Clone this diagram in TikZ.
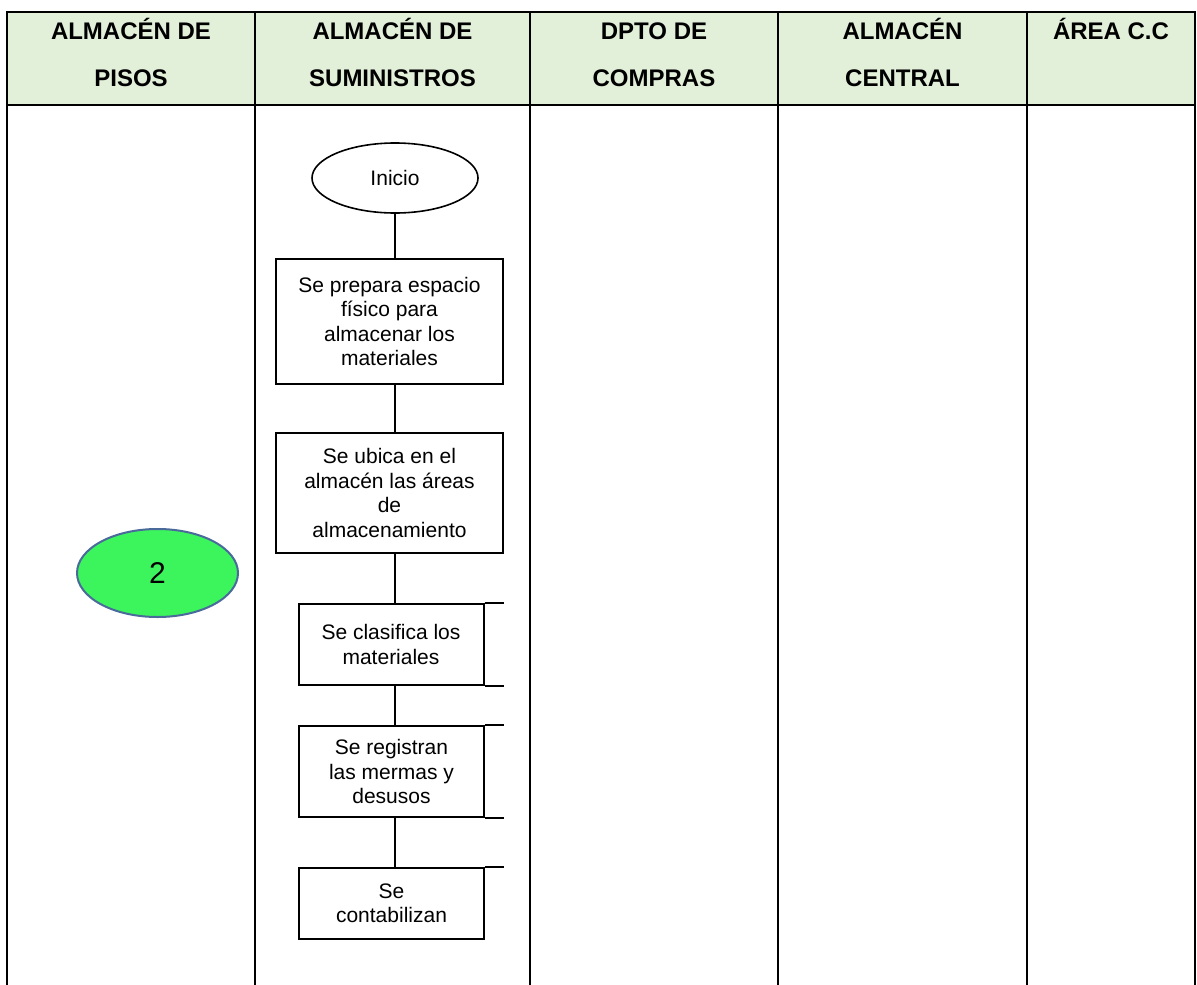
\documentclass[tikz,border=0pt]{standalone}
\usepackage{fontspec}
\setmainfont{Liberation Sans}
\usetikzlibrary{shapes.geometric}

\definecolor{headgreen}{HTML}{E2EFD9}
\definecolor{startgreen}{HTML}{3CF55C}
\definecolor{startblue}{HTML}{4A6A9C}

\tikzset{
  lanehead/.style={font=\bfseries\fontsize{24}{47}\selectfont,align=center,inner sep=0pt},
  procbox/.style={draw,line width=2pt,align=center,inner sep=2pt,
    font=\fontsize{21}{24.5}\selectfont},
  startnode/.style={draw,ellipse,line width=1.6pt,inner sep=0pt,
    font=\fontsize{21}{24.5}\selectfont},
}

\begin{document}
\begin{tikzpicture}[x=1pt,y=-1pt]
\useasboundingbox (0,0) rectangle (1197,985);
% lanes
\fill[headgreen] (7,12) rectangle (1195,105);
\draw[line width=2.2pt] (7,985) -- (7,12) -- (1195,12) -- (1195,985);
\draw[line width=2.2pt] (7,105) -- (1195,105);
\foreach \x in {255,530,778,1027}
  \draw[line width=2.2pt] (\x,12) -- (\x,985);
\node[lanehead] (hpisos) at (131,54) {\strut ALMACÉN DE\\\strut PISOS};
\node[lanehead] (hsumin) at (392.5,54) {\strut ALMACÉN DE\\\strut SUMINISTROS};
\node[lanehead] (hcompras) at (654,54) {\strut DPTO DE\\\strut COMPRAS};
\node[lanehead] (hcentral) at (902.5,54) {\strut ALMACÉN\\\strut CENTRAL};
\node[lanehead] (hcc) at (1111,54) {\strut ÁREA C.C\\\strut};

% connector
\node[startnode,fill=startgreen,draw=startblue,line width=2pt,minimum width=161pt,
  minimum height=88pt,font=\fontsize{30}{32}\selectfont] (dos) at (157.5,573) {2};

% flow
\node[startnode,minimum width=166pt,minimum height=70pt] (inicio) at (395,178) {Inicio};
\node[procbox,minimum width=227pt,minimum height=125pt] (prepara) at (389.5,321.5)
  {Se prepara espacio\\físico para\\almacenar los\\materiales};
\node[procbox,minimum width=227pt,minimum height=120pt] (ubica) at (389.5,493)
  {Se ubica en el\\almacén las áreas\\de\\almacenamiento};
\node[procbox,minimum width=185pt,minimum height=81pt] (clasifica) at (391,644.5)
  {Se clasifica los\\materiales};
\node[procbox,minimum width=185pt,minimum height=91pt] (registra) at (391.5,771.5)
  {Se registran\\las mermas y\\desusos};
\node[procbox,minimum width=185pt,minimum height=71pt] (contabiliza) at (391.5,903.5)
  {Se\\contabilizan};

\draw[line width=2pt] (inicio.south) -- (inicio.south |- prepara.north);
\draw[line width=2pt] (prepara.south -| inicio.south) -- (inicio.south |- ubica.north);
\draw[line width=2pt] (ubica.south -| inicio.south) -- (inicio.south |- clasifica.north);
\draw[line width=2pt] (clasifica.south -| inicio.south) -- (inicio.south |- registra.north);
\draw[line width=2pt] (registra.south -| inicio.south) -- (inicio.south |- contabiliza.north);

% cut-off edges at the right of the small boxes
\draw[line width=2pt] (clasifica.north east) -- ++(19,0);
\draw[line width=2pt] (clasifica.south east) -- ++(19,0);
\draw[line width=2pt] (registra.north east) -- ++(19,0);
\draw[line width=2pt] (registra.south east) -- ++(19,0);
\draw[line width=2pt] (contabiliza.north east) -- ++(19,0);
\end{tikzpicture}
\end{document}
